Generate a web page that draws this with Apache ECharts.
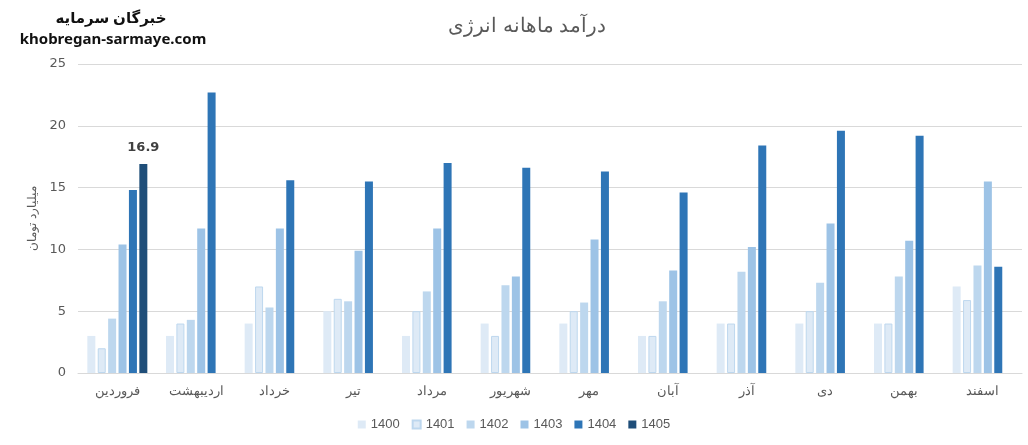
<!DOCTYPE html>
<html>
<head>
<meta charset="utf-8">
<script src="https://cdn.jsdelivr.net/npm/echarts@6/dist/echarts.min.js"></script>
<style>
html,body{margin:0;padding:0;background:#fff;}
#c{width:1028px;height:445px;}
</style>
</head>
<body>
<div id="c"></div>
<script>
var months = ['فروردین','اردیبهشت','خرداد','تیر','مرداد','شهریور','مهر','آبان','آذر','دی','بهمن','اسفند'];
var years = ['1400','1401','1402','1403','1404','1405'];
var v1400 = [3.0, 3.0, 4.0, 5.0, 3.0, 4.0, 4.0, 3.0, 4.0, 4.0, 4.0, 7.0];
var v1401 = [2.0, 4.0, 7.0, 6.0, 5.0, 3.0, 5.0, 3.0, 4.0, 5.0, 4.0, 5.9];
var v1402 = [4.4, 4.3, 5.3, 5.8, 6.6, 7.1, 5.7, 5.8, 8.2, 7.3, 7.8, 8.7];
var v1403 = [10.4, 11.7, 11.7, 9.9, 11.7, 7.8, 10.8, 8.3, 10.2, 12.1, 10.7, 15.5];
var v1404 = [14.8, 22.7, 15.6, 15.5, 17.0, 16.6, 16.3, 14.6, 18.4, 19.6, 19.2, 8.6];
var v1405 = [16.9, null, null, null, null, null, null, null, null, null, null, null];
var yTicks = [0, 5, 10, 15, 20, 25];

var colors = ['#DEEAF6', '#DEEAF6', '#BDD7EE', '#9DC3E6', '#2E75B6', '#1F4E79'];
var borders = [null, '#BDD7EE', null, null, null, null];
var seriesData = [v1400, v1401, v1402, v1403, v1404, v1405];

var series = years.map(function (y, i) {
  var s = {
    name: y,
    type: 'bar',
    data: seriesData[i],
    barWidth: 8,
    barGap: '30%',
    itemStyle: { color: colors[i] }
  };
  if (borders[i]) {
    s.itemStyle.borderColor = borders[i];
    s.itemStyle.borderWidth = 1;
  }
  if (y === '1405') {
    s.label = {
      show: true, position: 'top', distance: 10,
      fontWeight: 'bold', fontSize: 13, color: '#404040',
      fontFamily: 'Verdana, DejaVu Sans, sans-serif',
      formatter: function (p) { return p.value.toFixed(1); }
    };
  }
  return s;
});

var chart = echarts.init(document.getElementById('c'), null, { renderer: 'canvas' });
chart.setOption({
  animation: false,
  backgroundColor: '#fff',
  title: [
    {
      text: 'درآمد ماهانه انرژی',
      left: 522, top: 11, textAlign: 'center',
      textStyle: { color: '#595959', fontSize: 20, fontWeight: 'normal', fontFamily: 'Arial, Liberation Sans, sans-serif' }
    },
    {
      text: 'خبرگان سرمایه',
      left: 106, top: 6, textAlign: 'center',
      textStyle: { color: '#111', fontSize: 15, fontWeight: 'bold', fontFamily: 'Noto Sans, DejaVu Sans, sans-serif' }
    },
    {
      text: 'khobregan-sarmaye.com',
      left: 108, top: 27, textAlign: 'center',
      textStyle: { color: '#111', fontSize: 15, fontWeight: 'bold', fontFamily: 'Noto Sans, DejaVu Sans, sans-serif' }
    }
  ],
  legend: {
    data: years,
    bottom: 9,
    left: 'center',
    itemWidth: 8, itemHeight: 8, itemGap: 12,
    icon: 'rect',
    textStyle: { color: '#595959', fontSize: 13, fontFamily: 'Arial, Liberation Sans, sans-serif' }
  },
  grid: { left: 78, right: 6, top: 64, bottom: 72, containLabel: false },
  xAxis: {
    type: 'category',
    data: months,
    axisLine: { lineStyle: { color: '#D9D9D9' } },
    axisTick: { show: false },
    axisLabel: { color: '#595959', fontSize: 13, margin: 12, fontFamily: 'Arial, Liberation Sans, sans-serif' }
  },
  yAxis: {
    type: 'value',
    min: yTicks[0], max: yTicks[yTicks.length - 1], interval: 5,
    name: 'میلیارد تومان',
    nameLocation: 'middle', nameGap: 37, nameRotate: 90,
    nameTextStyle: { color: '#595959', fontSize: 12, fontFamily: 'Arial, Liberation Sans, sans-serif' },
    axisLine: { show: false },
    axisTick: { show: false },
    splitLine: { lineStyle: { color: '#D9D9D9' } },
    axisLabel: { color: '#595959', fontSize: 13, margin: 12, fontFamily: 'Verdana, DejaVu Sans, sans-serif' }
  },
  series: series
});
</script>
</body>
</html>
